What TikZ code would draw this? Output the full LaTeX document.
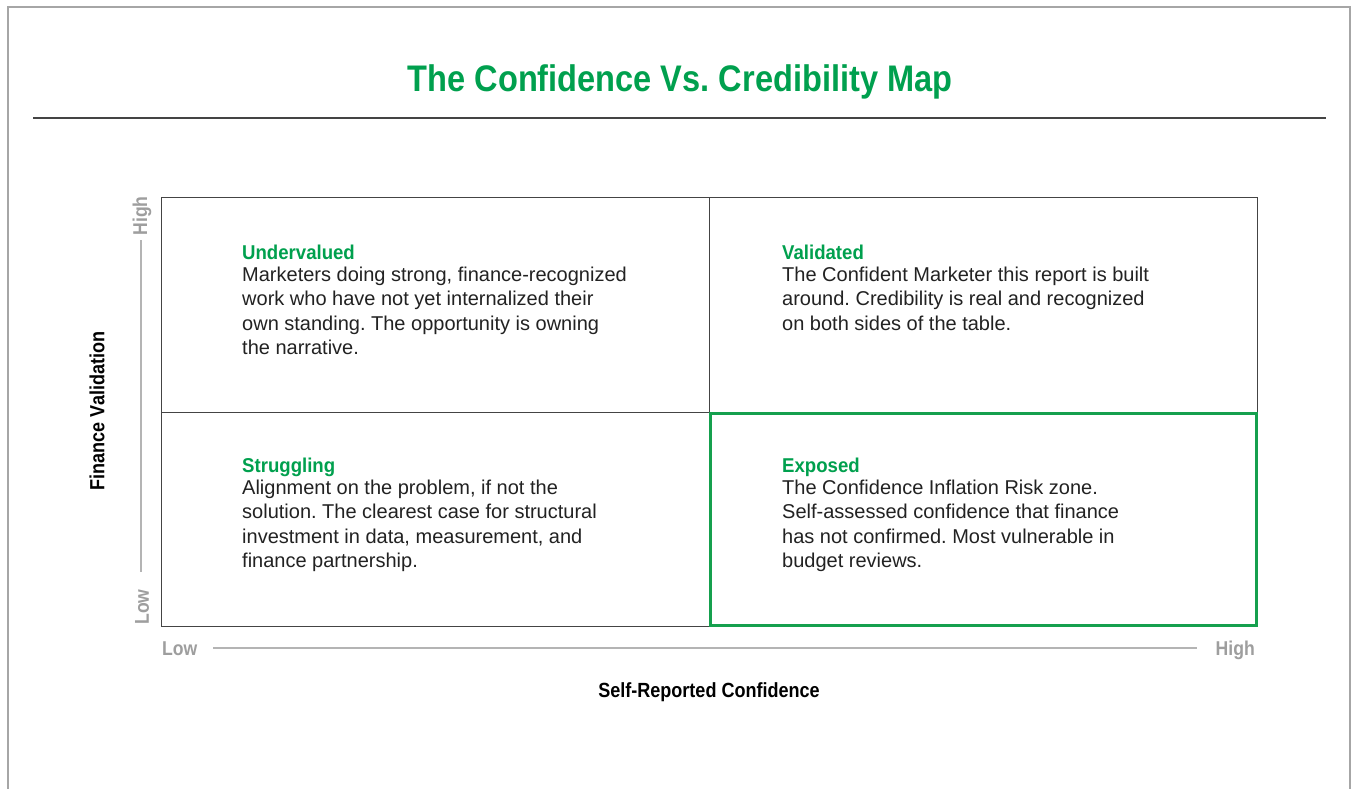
\documentclass[tikz,border=0pt]{standalone}
\usepackage{fontspec}
\setmainfont{Liberation Sans}
\newfontfamily\condbold[FakeStretch=0.88]{Liberation Sans Bold}
\newfontfamily\headbold[FakeStretch=0.93]{Liberation Sans Bold}
\frenchspacing
\definecolor{brandgreen}{HTML}{00A04E}
\definecolor{boxgreen}{HTML}{15A04E}
\definecolor{labelgray}{HTML}{9E9E9E}
\definecolor{axisgray}{HTML}{B4B4B4}
\definecolor{framegray}{HTML}{A6A6A6}
\definecolor{gridline}{HTML}{444444}
\definecolor{bodytext}{HTML}{222222}
\tikzset{
  cell/.style={draw=gridline, line width=1.2pt, anchor=north west, inner sep=0pt,
    minimum width=548pt, minimum height=214.5pt},
  quadtext/.style={anchor=north west, inner sep=0pt, align=left, text=bodytext,
    font={\fontsize{20}{24.5}\selectfont}},
  axislabel/.style={text=labelgray, inner sep=0pt, font={\condbold\fontsize{20}{24}\selectfont}},
  axistitle/.style={text=black, inner sep=0pt, font={\condbold\fontsize{20.5}{24}\selectfont}},
  axisline/.style={draw=axisgray, line width=1.1pt},
}
\newcommand{\quadhead}[1]{{\headbold\color{brandgreen}#1}\\[-2.5pt]}
\begin{document}
\begin{tikzpicture}[x=1pt, y=-1pt]
\useasboundingbox (0,0) rectangle (1354,789);
\fill[white] (0,0) rectangle (1354,789);

% outer frame, open at the bottom
\draw[framegray, line width=2pt] (8,789) -- (8,7) -- (1350,7) -- (1350,789);

% title and rule
\node[anchor=base, inner sep=0pt, text=brandgreen,
  font={\condbold\fontsize{37}{40}\selectfont}] (title) at (680,92)
  {The Confidence Vs. Credibility Map};
\coordinate (ruleL) at (33,118);
\coordinate (ruleR) at (1326,118);
\draw[gridline, line width=1.3pt] (ruleL) -- (ruleR);

% the four quadrants
\node[cell] (q1) at (161,197) {};
\node[cell] (q2) at (709,197) {};
\node[cell] (q3) at (161,411.5) {};
\node[cell] (q4) at (709,411.5) {};
\draw[boxgreen, line width=3pt] ([shift={(1.5pt,-1.5pt)}]q4.north west) rectangle ([shift={(-1.5pt,1.5pt)}]q4.south east);

% quadrant texts
\node[quadtext] (t1) at (242,244.5) {\quadhead{Undervalued}Marketers doing strong, finance-recognized\\work who have not yet internalized their\\own standing. The opportunity is owning\\the narrative.};
\node[quadtext] (t2) at (782,244.5) {\quadhead{Validated}The Confident Marketer this report is built\\around. Credibility is real and recognized\\on both sides of the table.};
\node[quadtext] (t3) at (242,457.5) {\quadhead{Struggling}Alignment on the problem, if not the\\solution. The clearest case for structural\\investment in data, measurement, and\\finance partnership.};
\node[quadtext] (t4) at (782,457.5) {\quadhead{Exposed}The Confidence Inflation Risk zone.\\Self-assessed confidence that finance\\has not confirmed. Most vulnerable in\\budget reviews.};

% vertical axis
\node[axislabel, rotate=90] (yhigh) at (142,216) {High};
\node[axislabel, rotate=90] (ylow) at (142,607) {Low};
\coordinate (ytop) at (141,240);
\coordinate (ybot) at (141,572);
\draw[axisline] (ytop) -- (ybot);
\node[axistitle, rotate=90] (ytitle) at (97,411) {Finance Validation};

% horizontal axis
\node[axislabel, anchor=base west] (xlow) at (162,655) {Low};
\node[axislabel, anchor=base east] (xhigh) at (1255,655) {High};
\coordinate (xleft) at (213,648);
\coordinate (xright) at (1197,648);
\draw[axisline] (xleft) -- (xright);
\node[axistitle, anchor=base] (xtitle) at (709,697) {Self-Reported Confidence};
\end{tikzpicture}
\end{document}
